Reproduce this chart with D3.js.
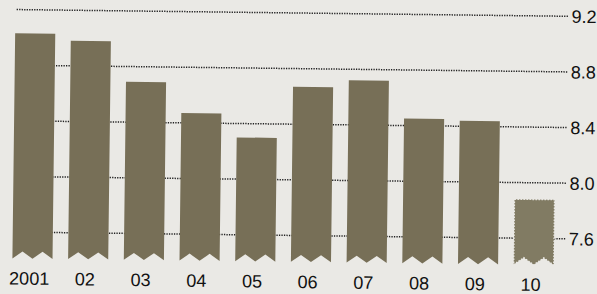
<!DOCTYPE html>
<html>
<head>
<meta charset="utf-8">
<script src="https://cdn.jsdelivr.net/npm/d3@7"></script>
<style>
  html, body { margin: 0; padding: 0; background: #eae9e5; }
  svg { display: block; }
  text { font-family: "Liberation Sans Narrow", "Liberation Sans", Arial, sans-serif; fill: #111; }
</style>
</head>
<body>
<div class="chart"></div>
<script>
// data
var years = ['2001', '02', '03', '04', '05', '06', '07', '08', '09', '10'];
var values = [9.03, 8.98, 8.69, 8.47, 8.30, 8.67, 8.72, 8.45, 8.44, 7.88];
var tickValues = [7.6, 8.0, 8.4, 8.8, 9.2];
var tickLabels = ['7.6', '8.0', '8.4', '8.8', '9.2'];
var estimated = ['10'];

var width = 597, height = 294;
var axisFloor = 7.41;   // where the bars are cut off
var notch = 7;

var data = years.map(function (y, i) { return {year: y, value: values[i]}; });

var x = d3.scaleBand()
    .domain(years)
    .range([6, 563])
    .paddingInner(0.28)
    .paddingOuter(0.14);

var y = d3.scaleLinear()
    .domain([7.6, 9.2])
    .range([235.5, 13]);

var svg = d3.select('.chart').append('svg')
    .attr('width', width)
    .attr('height', height);

svg.append('rect')
    .attr('width', width)
    .attr('height', height)
    .attr('fill', '#eae9e5');

// the scan is a little tilted
var g = svg.append('g')
    .attr('transform', 'rotate(0.7,298,147)');

// right hand labels first, so the dotted lines can stop before them
var labels = g.append('g').selectAll('text')
    .data(tickValues)
  .enter().append('text')
    .attr('x', 595)
    .attr('y', function (d) { return y(d); })
    .attr('dy', '0.36em')
    .attr('text-anchor', 'end')
    .style('font-size', '18px')
    .text(function (d, i) { return tickLabels[i]; });

var labelStart = [];
labels.each(function (d, i) {
  labelStart[i] = 595 - this.getComputedTextLength();
});

g.append('g').selectAll('line')
    .data(tickValues)
  .enter().append('line')
    .attr('x1', 15)
    .attr('x2', function (d, i) { return labelStart[i] - 3; })
    .attr('y1', function (d) { return y(d); })
    .attr('y2', function (d) { return y(d); })
    .attr('stroke', '#222')
    .attr('stroke-width', 1.5)
    .attr('stroke-dasharray', '1.3,1.2');

function barPath(d) {
  var x0 = x(d.year), w = x.bandwidth();
  var top = y(d.value), bot = y(axisFloor);
  return 'M' + x0 + ',' + top +
    'H' + (x0 + w) +
    'V' + bot +
    'L' + (x0 + w * 0.75) + ',' + (bot - notch) +
    'L' + (x0 + w * 0.5) + ',' + bot +
    'L' + (x0 + w * 0.25) + ',' + (bot - notch) +
    'L' + x0 + ',' + bot + 'Z';
}

g.append('g').selectAll('path')
    .data(data)
  .enter().append('path')
    .attr('d', barPath)
    .attr('fill', function (d) { return estimated.indexOf(d.year) >= 0 ? '#817b63' : '#776f57'; })
    .attr('stroke', function (d) { return estimated.indexOf(d.year) >= 0 ? '#eae9e5' : 'none'; })
    .attr('stroke-width', 1.4)
    .attr('stroke-dasharray', '1.5,1.5');

g.append('g').selectAll('text')
    .data(data)
  .enter().append('text')
    .attr('x', function (d) { return x(d.year) + x.bandwidth() / 2 - 3; })
    .attr('y', 288)
    .attr('text-anchor', 'middle')
    .style('font-size', '18px')
    .text(function (d) { return d.year; });
</script>
</body>
</html>
